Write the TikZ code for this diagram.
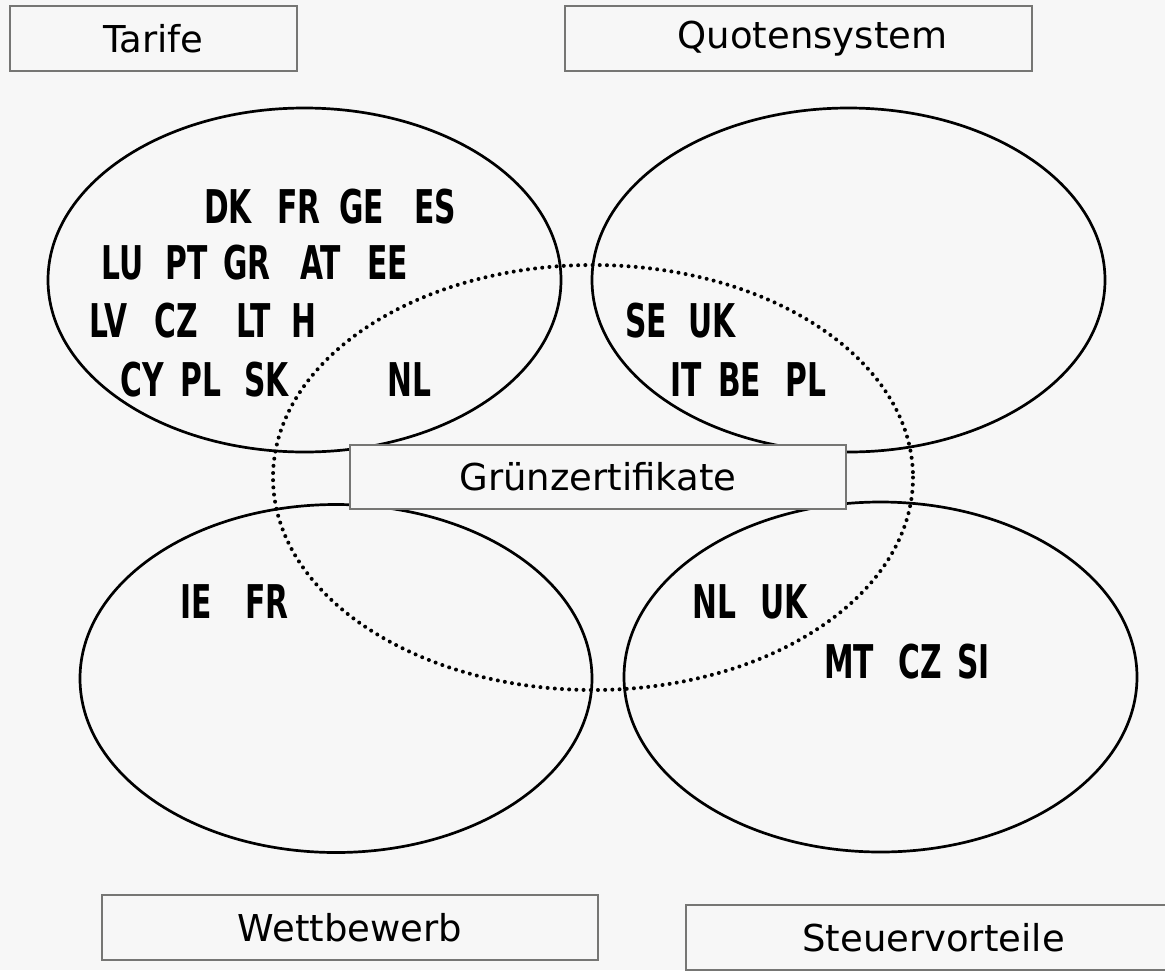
\documentclass[tikz,border=0pt]{standalone}
\usepackage{fontspec}
\setmainfont{DejaVu Sans}
\newfontfamily\codefont{DejaVu Sans Bold}[FakeStretch=0.64]
\definecolor{bg}{HTML}{F7F7F7}
\definecolor{boxgray}{HTML}{767674}
\tikzset{
  catbox/.style={draw=boxgray, line width=2.8pt, fill=bg, inner sep=0pt,
    font=\fontsize{37}{44}\selectfont},
  cattext/.style={inner sep=0pt, font=\fontsize{37}{44}\selectfont},
  code/.style={anchor=base west, inner sep=0pt, font=\codefont\fontsize{46.5}{50}\selectfont},
  venn/.style={draw=black, line width=2.7pt},
  dotring/.style={draw=black, line width=4pt, line cap=round, dash pattern=on 0pt off 7.2pt},
}
\begin{document}
\begin{tikzpicture}[x=1pt,y=-1pt]
\useasboundingbox (0,0) rectangle (1165,970);
\fill[bg] (0,0) rectangle (1165,970);

% Venn ellipses
\draw[venn] (304.5,280) ellipse [x radius=256.5, y radius=172];
\draw[venn] (848.5,280) ellipse [x radius=256.5, y radius=172];
\draw[venn] (336,678.5) ellipse [x radius=256, y radius=174];
\draw[venn] (880.5,677) ellipse [x radius=256.5, y radius=175];
\draw[dotring] (593,477.5) ellipse [x radius=320, y radius=212.5];

% category boxes
\node[catbox, minimum width=287pt, minimum height=65pt] (tarife) at (153.5,38.5) {Tarife};
\node[catbox, minimum width=467pt, minimum height=65pt] (quoten) at (798.5,38.5) {};
\node[cattext] (quoten-t) at (812.5,38.5) {Quotensystem};
\node[catbox, minimum width=496pt, minimum height=64pt] (gruen) at (598,477) {Grünzertifikate};
\node[catbox, minimum width=496pt, minimum height=65pt] (wett) at (350,927.5) {Wettbewerb};
\node[catbox, minimum width=495pt, minimum height=65pt] (steuer) at (933.5,937.5) {Steuervorteile};

% Tarife
\node[code] (t-dk) at (204,223) {DK};
\node[code] (t-fr) at (277,223) {FR};
\node[code] (t-ge) at (339,223) {GE};
\node[code] (t-es) at (414,223) {ES};
\node[code] (t-lu) at (101,279) {LU};
\node[code] (t-pt) at (165,279) {PT};
\node[code] (t-gr) at (223,279) {GR};
\node[code] (t-at) at (300,279) {AT};
\node[code] (t-ee) at (367,279) {EE};
\node[code] (t-lv) at (89,337) {LV};
\node[code] (t-cz) at (154,337) {CZ};
\node[code] (t-lt) at (236,337) {LT};
\node[code] (t-h)  at (291,337) {H};
\node[code] (t-cy) at (120,396) {CY};
\node[code] (t-pl) at (180,396) {PL};
\node[code] (t-sk) at (244,396) {SK};
\node[code] (t-nl) at (387,396) {NL};
% Quotensystem
\node[code] (q-se) at (625,337) {SE};
\node[code] (q-uk) at (688,337) {UK};
\node[code] (q-it) at (670,396) {IT};
\node[code] (q-be) at (718,396) {BE};
\node[code] (q-pl) at (785,396) {PL};
% Wettbewerb
\node[code] (w-ie) at (180,618) {IE};
\node[code] (w-fr) at (245,618) {FR};
% Steuervorteile
\node[code] (s-nl) at (692,618) {NL};
\node[code] (s-uk) at (760,618) {UK};
\node[code] (s-mt) at (824,678) {MT};
\node[code] (s-cz) at (898,678) {CZ};
\node[code] (s-si) at (957,678) {SI};
\end{tikzpicture}
\end{document}
